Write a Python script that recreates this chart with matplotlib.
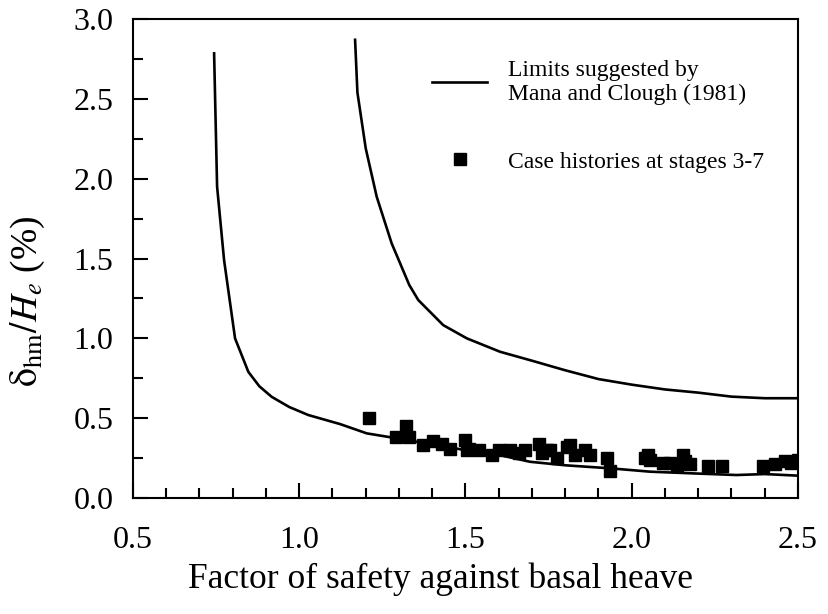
import numpy as np
import matplotlib
matplotlib.use("Agg")
from matplotlib import pyplot as plt
from matplotlib.ticker import MultipleLocator, FormatStrFormatter

# lower limit curve (Mana and Clough 1981)
low_x = [0.744, 0.753, 0.774, 0.807, 0.847, 0.88, 0.917, 0.97, 1.027, 1.123, 1.203, 1.293, 1.40, 1.50,
         1.60, 1.694, 1.80, 1.935, 2.055, 2.175, 2.315, 2.40, 2.50]
low_y = [2.785, 1.95, 1.49, 1.00, 0.79, 0.70, 0.634, 0.57, 0.52, 0.463, 0.405, 0.374, 0.335, 0.30,
         0.27, 0.227, 0.205, 0.186, 0.165, 0.155, 0.144, 0.15, 0.14]

# upper limit curve
up_x = [1.168, 1.175, 1.20, 1.233, 1.278, 1.331, 1.358, 1.433, 1.504, 1.604, 1.70, 1.80,
        1.90, 2.00, 2.10, 2.20, 2.30, 2.40, 2.50]
up_y = [2.87, 2.54, 2.19, 1.887, 1.595, 1.334, 1.24, 1.083, 1.00, 0.916, 0.86, 0.80,
        0.745, 0.71, 0.68, 0.66, 0.635, 0.625, 0.625]

# case histories at stages 3-7
case_x = [1.21, 1.29, 1.32, 1.33, 1.373, 1.403, 1.428, 1.453, 1.498, 1.504, 1.51, 1.54,
          1.58, 1.60, 1.634, 1.66, 1.68, 1.72, 1.73, 1.745, 1.754, 1.775, 1.805, 1.814,
          1.83, 1.86, 1.875, 1.925, 1.935, 2.04, 2.05, 2.055, 2.095, 2.115, 2.135, 2.155,
          2.16, 2.175, 2.23, 2.27, 2.395, 2.43, 2.46, 2.48, 2.50]
case_y = [0.50, 0.38, 0.45, 0.38, 0.33, 0.36, 0.34, 0.31, 0.363, 0.30, 0.31, 0.30,
          0.27, 0.30, 0.30, 0.28, 0.30, 0.34, 0.28, 0.30, 0.30, 0.25, 0.32, 0.33,
          0.27, 0.30, 0.27, 0.25, 0.17, 0.25, 0.27, 0.24, 0.22, 0.22, 0.20, 0.27,
          0.23, 0.21, 0.20, 0.20, 0.20, 0.21, 0.23, 0.22, 0.24]

plt.rcParams["font.family"] = "Liberation Serif"
plt.rcParams["mathtext.fontset"] = "stix"

fig = plt.figure(figsize=(8.29, 6.14), dpi=100)
ax = fig.add_axes([0.1604, 0.1889, 0.8022, 0.7801])

ax.plot(low_x, low_y, color="black", lw=1.9, label="Limits suggested by\nMana and Clough (1981)")
ax.plot(up_x, up_y, color="black", lw=1.9)
ax.plot(case_x, case_y, "s", color="black", markersize=8.5, linestyle="none",
        label="Case histories at stages 3-7")

ax.set_xlim(0.5, 2.5)
ax.set_ylim(0.0, 3.0)
ax.xaxis.set_major_locator(MultipleLocator(0.5))
ax.xaxis.set_minor_locator(MultipleLocator(0.1))
ax.yaxis.set_major_locator(MultipleLocator(0.5))
ax.yaxis.set_minor_locator(MultipleLocator(0.25))
ax.xaxis.set_major_formatter(FormatStrFormatter("%.1f"))
ax.yaxis.set_major_formatter(FormatStrFormatter("%.1f"))
ax.tick_params(which="both", direction="in", width=1.5, labelsize=23, top=False, right=False)
ax.tick_params(which="major", length=11)
ax.tick_params(axis="x", which="major", pad=20)
ax.tick_params(axis="y", which="major", pad=14)
ax.tick_params(which="minor", length=7)
for s in ax.spines.values():
    s.set_linewidth(1.5)

ax.set_xlabel("Factor of safety against basal heave", fontsize=25.5)
ax.xaxis.set_label_coords(0.462, -0.135)
ax.set_ylabel(r"$\mathrm{\delta}_{\mathrm{hm}}/H_e$ (%)", fontsize=27)
ax.yaxis.set_label_coords(-0.13, 0.41)

ax.legend(loc="upper left", bbox_to_anchor=(0.45, 0.915), frameon=False, fontsize=17,
          handlelength=2.33, handletextpad=0.9, labelspacing=1.95, numpoints=1,
          borderpad=0, borderaxespad=0, markerscale=0.95)

plt.savefig("out.png")
